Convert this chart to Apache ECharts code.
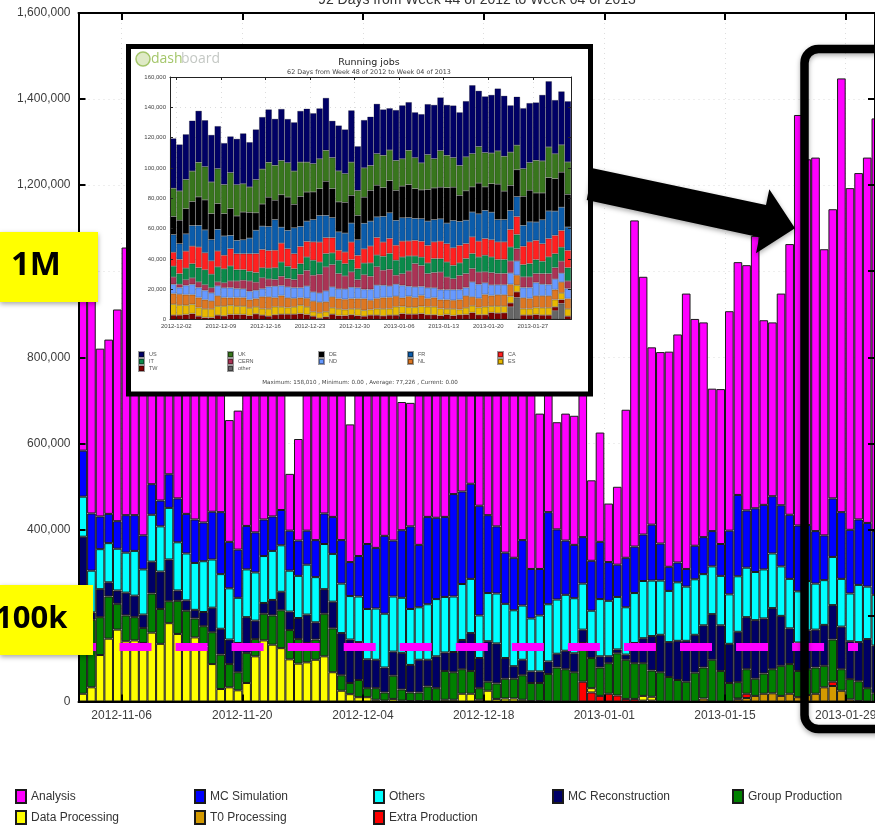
<!DOCTYPE html>
<html>
<head>
<meta charset="utf-8">
<title>Running jobs</title>
<script src="https://cdn.jsdelivr.net/npm/echarts@6/dist/echarts.min.js"></script>
<style>
html, body { margin: 0; padding: 0; background: #fff; overflow: hidden; }
/* the chart is wider than the slide: the last day of the original runs off its edge */
#slide { width: 875px; height: 825px; overflow: hidden; }
#chart { width: 900px; height: 825px; }
</style>
</head>
<body>
<div id="slide"><div id="chart"></div></div>
<script>
// main chart values, thousands of jobs per day, 2012-11-01 onwards
const analysis = [366,494,390,405,492,622,567,515,444,453,
  431,460,464,438,435,360,320,283,323,373,
  407,428,390,426,132,236,403,406,424,351,
  386,320,462,453,433,365,426,298,287,416,
  391,384,370,308,332,294,335,417,372,414,
  436,386,432,361,300,249,295,300,358,187,
  254,136,181,344,758,599,412,445,500,530,
  640,527,499,331,360,510,541,570,633,429,
  404,492,629,954,850,868,665,672,1008,794,
  805,849,959];
const mcSimulation = [107,133,76,68,64,87,83,79,71,60,
  78,102,92,101,90,111,144,108,112,101,
  93,85,80,82,93,82,79,86,71,86,
  101,79,94,151,141,181,130,157,192,145,
  203,189,186,238,215,221,255,181,156,119,
  122,152,115,108,214,163,126,124,108,116,
  133,90,75,115,108,108,130,86,56,46,
  41,78,86,82,74,148,189,133,148,150,
  133,142,149,153,130,122,104,136,155,148,
  152,148,148];
const others = [93,97,93,91,97,93,104,105,109,105,
  120,112,109,109,118,112,127,119,105,111,
  112,109,114,108,95,98,116,105,105,111,
  115,101,106,117,119,125,128,128,130,122,
  129,133,129,129,130,126,99,112,116,126,
  130,126,123,130,133,126,130,128,107,87,
  133,129,122,110,116,133,129,126,119,136,
  126,129,119,111,115,115,129,115,112,114,
  127,115,115,119,115,107,104,112,111,111,
  133,122,118];
const mcReconstruction = [170,17,65,33,31,53,50,31,74,87,
  97,24,24,20,33,57,60,57,68,83,
  43,25,36,43,43,49,66,40,57,62,
  98,101,88,67,66,58,56,85,64,76,
  62,74,43,47,68,88,70,94,93,48,
  29,36,27,27,29,32,43,44,31,23,
  26,16,9,12,47,58,80,87,81,91,
  95,88,98,106,106,91,117,121,136,128,
  142,116,83,66,90,88,95,80,99,88,
  91,114,111];
const groupProduction = [195,157,88,98,60,60,54,35,91,81,
  51,77,83,44,47,74,80,54,42,70,
  40,62,68,88,68,57,45,47,99,102,
  36,26,40,21,27,19,54,26,20,20,
  34,31,67,64,57,53,27,21,36,46,
  46,57,42,42,64,79,75,68,90,70,
  66,71,98,91,83,76,61,68,57,50,
  46,67,72,97,71,43,38,57,40,47,
  56,70,69,61,60,61,50,98,50,47,
  46,31,19];
const dataProcessing = [18,33,108,146,167,140,142,136,160,134,
  182,157,128,149,128,87,29,33,26,43,
  105,142,132,124,98,88,91,97,105,68,
  25,17,10,10,4,2,6,2,1,1,
  1,0,4,4,18,18,4,25,6,7,
  7,4,1,1,0,0,0,0,0,10,
  0,0,0,0,0,11,9,0,0,0,
  0,0,0,0,0,0,0,0,0,0,
  0,0,0,0,0,0,0,0,0,0,
  0,0,0];
const t0Processing = [0,0,0,0,0,0,0,0,0,0,
  0,0,0,0,0,0,0,0,0,0,
  0,0,0,0,0,0,0,0,0,0,
  0,0,0,0,0,0,0,0,0,0,
  0,0,0,0,0,0,0,0,0,0,
  0,0,0,0,0,0,0,0,0,0,
  0,0,0,0,0,2,2,0,0,0,
  0,0,7,0,0,0,5,8,13,18,
  19,13,18,10,15,18,33,36,25,5,
  1,0,0];
const extraProduction = [0,0,0,0,0,0,0,0,0,0,
  0,0,0,0,0,0,0,0,0,0,
  0,0,0,0,0,0,0,0,0,0,
  0,0,0,0,0,0,0,0,0,0,
  0,0,0,0,0,0,0,0,0,0,
  0,0,0,0,0,0,0,0,46,21,
  13,18,14,6,6,0,0,0,0,0,
  0,0,0,0,0,0,2,10,0,0,
  0,0,0,0,0,0,0,10,0,0,
  0,0,0];
const mainTickLabels = ['2012-11-06','2012-11-20','2012-12-04','2012-12-18','2013-01-01','2013-01-15','2013-01-29'];

// inset chart values, thousands of running jobs per day, 2012-12-01 onwards
const us = [32.9,30.7,29.8,33.3,34.0,30.7,31.1,28.1,27.4,23.9,
  30.3,33.3,29.6,33.1,34.4,34.9,30.7,34.0,28.9,32.2,
  33.8,35.3,33.3,33.3,34.6,24.3,30.0,29.2,34.2,29.2,
  31.6,32.2,32.9,30.3,27.6,33.3,35.3,31.8,30.0,32.2,
  33.3,35.5,35.1,33.3,34.4,35.1,36.8,45.2,36.8,37.1,
  38.4,41.2,39.9,30.9,32.0,39.9,39.3,38.2,43.6,43.4,
  35.5,35.3,40.1];
const uk = [18.6,19.3,19.3,20.0,22.8,21.9,20.8,23.0,19.1,23.7,
  20.6,18.6,16.7,21.9,23.0,23.0,23.0,22.6,22.6,21.9,
  22.6,19.7,18.6,19.7,20.4,20.4,20.4,18.9,21.9,16.4,
  19.3,16.4,20.8,21.3,20.2,19.7,18.0,22.6,20.4,17.8,
  23.0,19.3,24.1,21.3,19.5,19.7,22.4,21.9,24.1,22.6,
  20.2,21.9,23.0,21.9,16.2,18.2,18.2,21.5,21.1,20.2,
  16.4,18.0,21.3];
const de = [12.0,15.5,16.6,15.9,18.8,19.8,17.2,17.0,14.8,17.7,
  16.1,18.3,17.0,11.5,14.6,19.4,12.8,21.4,22.0,15.5,
  19.8,19.2,18.3,17.7,22.5,19.2,19.8,20.3,18.3,16.1,
  17.2,20.3,20.9,19.0,21.2,19.8,20.9,21.8,19.6,19.0,
  20.9,20.9,20.9,23.4,22.0,17.2,19.4,16.6,20.3,15.5,
  18.8,23.4,18.8,16.6,17.7,19.2,20.9,19.2,17.7,22.0,
  21.4,23.1,21.6];
const fr = [11.6,10.3,11.4,13.6,14.3,15.1,14.0,14.3,12.7,8.8,
  8.8,9.2,10.3,15.4,15.4,15.8,20.2,10.5,12.1,17.1,
  13.2,13.4,14.7,17.5,14.7,13.2,12.1,12.5,12.5,10.3,
  16.9,16.4,13.6,16.9,16.9,16.4,15.4,15.4,14.5,14.9,
  16.0,14.7,14.7,13.6,18.0,15.8,15.4,16.4,18.0,18.6,
  18.2,14.7,14.7,12.5,13.2,13.8,13.2,12.1,15.8,18.2,
  16.0,15.4,15.4];
const ca = [9.2,9.4,11.2,11.6,13.6,11.2,8.8,10.5,9.0,11.4,
  10.5,10.5,11.6,12.5,12.1,11.6,11.6,12.5,11.6,9.9,
  11.4,10.3,12.1,13.2,10.5,10.1,6.6,7.7,11.6,8.8,
  9.4,11.2,11.6,9.4,9.9,9.9,10.5,9.9,10.3,10.5,
  11.6,11.0,11.6,12.1,11.6,11.6,9.9,11.0,10.5,11.0,
  11.4,11.6,11.6,11.6,11.8,12.1,14.3,12.7,11.6,12.1,
  12.1,11.0,11.4];
const it = [7.2,7.0,7.7,9.4,9.4,9.9,9.0,9.9,9.2,9.9,
  7.5,7.0,6.4,6.4,6.6,7.2,7.7,9.4,8.1,7.2,
  7.0,8.8,9.9,8.1,8.8,7.7,8.8,8.1,8.1,7.2,
  7.7,8.8,7.7,9.2,10.5,9.9,11.0,9.9,5.0,5.5,
  7.0,9.2,8.8,9.9,8.8,8.3,9.9,9.9,9.9,11.0,
  10.3,9.2,9.2,9.2,9.4,8.1,8.8,9.2,8.1,11.0,
  9.2,9.2,8.8];
const cern = [4.8,2.2,3.7,4.2,3.7,3.7,3.3,2.6,3.3,4.4,
  5.0,5.7,6.8,5.3,7.2,5.0,4.4,6.1,5.5,5.3,
  8.8,10.3,11.0,12.3,15.8,14.7,10.1,8.6,10.1,5.3,
  9.6,8.6,12.1,9.9,11.0,5.9,7.7,10.1,15.4,13.8,
  9.4,10.1,11.6,8.3,7.2,9.2,9.2,8.8,8.1,7.2,
  8.1,7.5,7.5,7.9,8.1,7.0,7.0,5.9,7.0,7.2,
  7.5,7.9,5.0];
const nd = [6.1,4.4,6.1,6.8,6.6,6.1,5.3,6.6,6.4,6.6,
  5.9,5.7,5.5,5.5,5.3,6.8,7.5,6.6,7.2,7.0,
  6.6,8.1,6.1,6.1,7.2,6.6,6.4,6.8,7.5,7.2,
  6.1,7.2,8.8,8.1,7.5,7.9,8.1,6.6,7.0,5.9,
  7.0,6.4,6.6,6.6,7.0,6.6,5.5,9.9,9.2,7.7,
  7.0,6.6,6.6,7.5,9.4,6.8,7.2,8.8,7.7,7.5,
  7.0,5.9,6.6];
const nl = [7.0,7.2,7.0,6.4,6.6,6.1,5.3,6.8,5.7,5.0,
  5.7,5.7,5.5,5.5,7.9,7.9,6.1,7.5,6.4,5.7,
  5.0,5.7,7.0,7.0,6.6,7.2,6.8,6.8,6.8,6.8,
  7.7,6.1,6.8,7.5,7.5,7.0,5.7,7.2,6.4,7.2,
  5.5,6.1,5.9,6.1,5.7,6.6,7.9,5.9,6.1,8.1,
  7.0,7.5,7.5,7.9,6.6,7.2,6.8,7.7,7.9,7.9,
  6.6,7.2,6.8];
const es = [7.2,6.6,6.1,6.1,5.7,5.7,5.7,5.9,6.4,6.1,
  5.5,5.5,5.0,4.6,4.2,4.8,5.3,4.8,4.4,4.8,
  5.5,5.0,2.9,3.5,3.3,4.2,4.4,3.9,3.9,4.4,
  3.9,3.7,4.2,4.6,4.2,5.5,4.8,4.6,4.6,4.8,
  5.3,5.3,4.6,3.7,4.4,3.5,4.4,4.4,4.8,5.3,
  4.2,4.6,4.4,4.4,4.4,4.2,4.2,4.6,4.8,4.8,
  4.8,4.4,4.8];
const tw = [2.9,2.9,3.3,3.9,2.2,1.3,1.3,2.9,2.4,3.3,
  3.3,3.3,2.6,3.7,2.9,2.2,3.1,3.5,3.5,3.5,
  3.9,3.3,2.2,0.9,1.8,3.5,2.6,2.6,3.1,2.6,
  2.2,2.9,2.9,2.4,2.9,2.9,3.9,3.5,3.5,3.9,
  3.1,3.1,2.6,3.3,2.6,3.1,3.3,4.6,3.1,3.1,
  4.6,4.2,4.4,2.6,3.7,2.9,2.9,3.3,2.9,2.9,
  2.6,2.6,2.2];
const other = [0,0,0,0,0,0,0,0,0,0,
  0,0,0,0,0,0,0,0,0,0,
  0,0,0,0,0,0,0,0,0,0,
  0,0,0,0,0,0,0,0,0,0,
  0,0,0,0,0,0,0,0,0,0,
  0,0,0,8.3,14.5,0,0,0,0,0,
  5.7,10.5,0];
const insetTickLabels = ['2012-12-02','2012-12-09','2012-12-16','2012-12-23','2012-12-30','2013-01-06','2013-01-13','2013-01-20','2013-01-27'];

const DAY = 86400000;
const UI_FONT = '"Liberation Sans", sans-serif';
const CHART_W = 900;
const SLIDE_W = 875;

function dayOf(text) {
    return Date.parse(text + 'T00:00:00Z');
}
function dateLabel(v) {
    return new Date(v).toISOString().slice(0, 10);
}
function thousands(v) {
    return v.toLocaleString('en-US');
}
function daysFrom(start, count) {
    const days = [];
    for (let i = 0; i < count; i++) {
        days.push(dateLabel(start + i * DAY));
    }
    return days;
}

// zero days stay null so that no empty bar outline is drawn
function barSeries(name, values, color, conf) {
    return {
        name: name,
        type: 'bar',
        stack: conf.stack,
        xAxisIndex: conf.axis,
        yAxisIndex: conf.axis,
        z: conf.z,
        barWidth: '100%',
        itemStyle: { color: color, borderColor: conf.border, borderWidth: conf.borderWidth },
        data: values.map(function (v) {
            return v ? v * 1000 : null;
        })
    };
}

// a legend per entry, so that the columns stay where the original had them
function legendEntry(name, left, top, conf) {
    return {
        data: [{ name: name, icon: 'rect' }],
        left: left,
        top: top,
        padding: 0,
        itemWidth: conf.w,
        itemHeight: conf.h,
        itemGap: 0,
        selectedMode: false,
        z: conf.z,
        textStyle: { fontFamily: UI_FONT, fontSize: conf.size, color: conf.color }
    };
}

const mainConf = { stack: 'main', axis: 0, z: 2, border: '#1a1a1a', borderWidth: 1 };
const insetConf = { stack: 'inset', axis: 4, z: 62, border: 'rgba(0,0,0,0.4)', borderWidth: 0.6 };

const series = [
    // bottom of the stack first
    barSeries('T0 Processing', t0Processing, '#d49a00', mainConf),
    barSeries('Extra Production', extraProduction, '#ff0000', mainConf),
    barSeries('Data Processing', dataProcessing, '#ffff00', mainConf),
    barSeries('Group Production', groupProduction, '#008000', mainConf),
    barSeries('MC Reconstruction', mcReconstruction, '#000066', mainConf),
    barSeries('Others', others, '#00ffff', mainConf),
    barSeries('MC Simulation', mcSimulation, '#0000ff', mainConf),
    barSeries('Analysis', analysis, '#ff00ff', mainConf),
    barSeries('other', other, '#666666', insetConf),
    barSeries('TW', tw, '#800000', insetConf),
    barSeries('ES', es, '#e8b800', insetConf),
    barSeries('NL', nl, '#dd7722', insetConf),
    barSeries('ND', nd, '#6699ff', insetConf),
    barSeries('CERN', cern, '#aa3355', insetConf),
    barSeries('IT', it, '#0a8a4a', insetConf),
    barSeries('CA', ca, '#ff2020', insetConf),
    barSeries('FR', fr, '#0b5cab', insetConf),
    barSeries('DE', de, '#000000', insetConf),
    barSeries('UK', uk, '#38761d', insetConf),
    barSeries('US', us, '#000066', insetConf)
];

// each chart has two grids: bars on a hidden category axis, and a frame grid in the
// same place with value axes (milliseconds on x) for labels, grid lines and ticks.
// Bars must be a whole number of days wide, the frame ends at the edge of the slide.
function xAxes(dataGrid, days, min, max, labels, s) {
    const ticks = labels.map(dayOf);
    const frameGrid = dataGrid + 1;
    const front = function (position) {
        return {
            type: 'value', gridIndex: frameGrid, min: min, max: max, position: position, z: s.z + 3,
            axisLine: { show: true, onZero: false, lineStyle: { color: s.line, width: s.lineW } },
            axisTick: { show: true, inside: true, length: s.tick, customValues: ticks, lineStyle: { color: s.line, width: s.tickW } },
            axisLabel: { show: false, customValues: ticks }, splitLine: { show: false }
        };
    };
    return [{
        type: 'category', gridIndex: dataGrid, data: days, position: 'bottom',
        axisLine: { show: false, onZero: false }, axisTick: { show: false },
        axisLabel: { show: false }, splitLine: { show: false }
    }, {
        type: 'value', gridIndex: frameGrid, min: min, max: max, position: 'bottom', z: s.z,
        axisLine: { show: false, onZero: false }, axisTick: { show: false, customValues: ticks },
        axisLabel: {
            show: true, customValues: ticks, margin: s.margin, hideOverlap: false,
            fontFamily: UI_FONT, fontSize: s.size, color: s.text,
            formatter: dateLabel
        },
        splitLine: { show: true, lineStyle: { color: '#dddddd', type: [1, 4], width: 1 } }
    }, front('bottom'), front('top')];
}
function yAxes(dataGrid, max, step, s) {
    const frameGrid = dataGrid + 1;
    const front = function (position) {
        return {
            type: 'value', gridIndex: frameGrid, min: 0, max: max, interval: step, position: position, z: s.z + 3,
            axisLine: { show: true, onZero: false, lineStyle: { color: s.line, width: s.lineW } },
            axisTick: { show: true, inside: true, length: s.tick, lineStyle: { color: s.line, width: s.tickW } },
            axisLabel: { show: false }, splitLine: { show: false }
        };
    };
    return [{
        type: 'value', gridIndex: dataGrid, min: 0, max: max, interval: step, position: 'left',
        axisLine: { show: false, onZero: false }, axisTick: { show: false },
        axisLabel: { show: false }, splitLine: { show: false }
    }, {
        type: 'value', gridIndex: frameGrid, min: 0, max: max, interval: step, position: 'left', z: s.z,
        axisLine: { show: false, onZero: false }, axisTick: { show: false },
        axisLabel: { show: true, margin: s.margin, fontFamily: UI_FONT, fontSize: s.size, color: s.text, formatter: thousands },
        splitLine: { show: true, lineStyle: { color: '#dddddd', type: [1, 4], width: 1 } }
    }, front('left'), front('right')];
}

const mainStyle = { z: 1, line: '#000', lineW: 2, tick: 7, tickW: 2, margin: 8, size: 12, text: '#3c3c3c' };
const insetStyle = { z: 60, line: '#222', lineW: 1, tick: 3, tickW: 1, margin: 4, size: 6, text: '#444' };

const mainStart = dayOf('2012-11-01');
const mainDays = daysFrom(mainStart, analysis.length);
const mainLeft = 78.5;
const mainPitch = 8.62;
const insetStart = dayOf('2012-12-01');
const insetDays = daysFrom(insetStart, us.length);

const mainAxisX = xAxes(0, mainDays, mainStart, mainStart + (SLIDE_W - mainLeft) / mainPitch * DAY, mainTickLabels, mainStyle);
const insetAxisX = xAxes(2, insetDays, insetStart, insetStart + us.length * DAY, insetTickLabels, insetStyle);
const mainAxisY = yAxes(0, 1600000, 200000, mainStyle);
const insetAxisY = yAxes(2, 160000, 20000, insetStyle);

const mainLegend = { w: 10, h: 13, size: 12, color: '#333', z: 5 };
const insetLegend = { w: 5, h: 5, size: 5.5, color: '#555', z: 70 };
const legends = [
    legendEntry('Analysis', 15, 789, mainLegend),
    legendEntry('MC Simulation', 194, 789, mainLegend),
    legendEntry('Others', 373, 789, mainLegend),
    legendEntry('MC Reconstruction', 552, 789, mainLegend),
    legendEntry('Group Production', 732, 789, mainLegend),
    legendEntry('Data Processing', 15, 810, mainLegend),
    legendEntry('T0 Processing', 194, 810, mainLegend),
    legendEntry('Extra Production', 373, 810, mainLegend),
    legendEntry('US', 138, 351, insetLegend),
    legendEntry('UK', 227, 351, insetLegend),
    legendEntry('DE', 318, 351, insetLegend),
    legendEntry('FR', 407, 351, insetLegend),
    legendEntry('CA', 497, 351, insetLegend),
    legendEntry('IT', 138, 358, insetLegend),
    legendEntry('CERN', 227, 358, insetLegend),
    legendEntry('ND', 318, 358, insetLegend),
    legendEntry('NL', 407, 358, insetLegend),
    legendEntry('ES', 497, 358, insetLegend),
    legendEntry('TW', 138, 365, insetLegend),
    legendEntry('other', 227, 365, insetLegend)
];

function label(text, x, y, font, fill, z, align) {
    return { type: 'text', z: z, style: { text: text, x: x, y: y, font: font, fill: fill, align: align || 'left', verticalAlign: 'middle' } };
}

const shadow = { shadowBlur: 5, shadowColor: 'rgba(0,0,0,0.35)', shadowOffsetY: 2 };
const overlays = [
    // top title, cut by the edge of the slide
    label('92 Days from Week 44 of 2012 to Week 04 of 2013', 477, 0, '14px ' + UI_FONT, '#333', 5, 'center'),
    // inset panel
    { type: 'rect', z: 50, shape: { x: 128.5, y: 46.5, width: 462, height: 347.5 }, style: { fill: '#fff', stroke: '#000', lineWidth: 5 } },
    { type: 'circle', z: 70, shape: { cx: 143, cy: 59, r: 7 }, style: { fill: '#dfeac6', stroke: '#a4c66a', lineWidth: 1.5 } },
    label('dash', 151, 59, '14px "Open Sans", sans-serif', '#a4c66a', 70),
    label('board', 181, 59, '14px "Open Sans", sans-serif', '#c4c8c4', 70),
    label('Running jobs', 369, 62.5, '9.5px "DejaVu Sans", sans-serif', '#222', 70, 'center'),
    label('62 Days from Week 48 of 2012 to Week 04 of 2013', 369, 72, '6.4px "DejaVu Sans", sans-serif', '#444', 70, 'center'),
    label('Maximum: 158,010 , Minimum: 0.00 , Average: 77,226 , Current: 0.00', 360, 383, '5.6px "DejaVu Sans", sans-serif', '#444', 70, 'center'),
    // arrow from the inset to the highlighted days
    { type: 'polygon', z: 80, shape: { points: [[592.7, 168.3], [766, 205], [769.3, 189.3], [795, 228.3], [756, 253.3], [759.3, 237.3], [586.7, 200]] }, style: Object.assign({ fill: '#000' }, shadow) },
    // highlighted days
    { type: 'rect', z: 80, shape: { x: 804.5, y: 49, width: 110, height: 680, r: 14 }, style: Object.assign({ fill: 'none', stroke: '#000', lineWidth: 8.5 }, shadow) },
    // yellow tags
    { type: 'rect', z: 85, shape: { x: 0, y: 232, width: 98, height: 70 }, style: Object.assign({ fill: '#ffff00' }, shadow) },
    label('1M', 11, 266, 'bold 33px "Open Sans", sans-serif', '#000', 86),
    { type: 'rect', z: 85, shape: { x: 0, y: 585, width: 93, height: 70 }, style: Object.assign({ fill: '#ffff00' }, shadow) },
    label('100k', -5, 619, 'bold 31px "Open Sans", sans-serif', '#000', 86),
    // magenta dashes across the 100k level
    { type: 'rect', z: 78, shape: { x: 79, y: 643, width: 17, height: 8 }, style: { fill: '#ff00ff' } }
];
for (let k = 0; k < 13; k++) {
    overlays.push({ type: 'rect', z: 78, shape: { x: 119.5 + k * 56.05, y: 643, width: 32, height: 8 }, style: { fill: '#ff00ff' } });
}
overlays.push({ type: 'rect', z: 78, shape: { x: 848, y: 643, width: 10, height: 8 }, style: { fill: '#ff00ff' } });

const myChart = echarts.init(document.getElementById('chart'), null, { renderer: 'canvas' });
myChart.setOption({
    animation: false,
    backgroundColor: '#fff',
    legend: legends,
    grid: [
        { left: mainLeft, right: CHART_W - mainLeft - analysis.length * mainPitch, top: 13, bottom: 123.5 },
        { left: mainLeft, right: CHART_W - SLIDE_W, top: 13, bottom: 123.5 },
        { left: 170, top: 77, width: 401, height: 242.5 },
        { left: 170, top: 77, width: 401, height: 242.5 }
    ],
    xAxis: mainAxisX.concat(insetAxisX),
    yAxis: mainAxisY.concat(insetAxisY),
    series: series,
    graphic: overlays
});
</script>
</body>
</html>
